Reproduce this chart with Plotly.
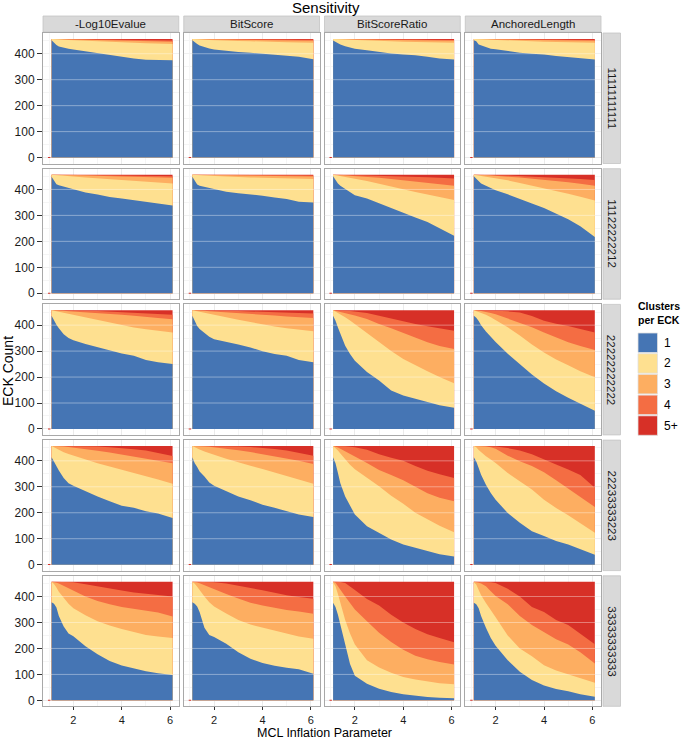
import plotly.graph_objects as go

# ---------------- data ----------------
# MCL inflation parameter values at which the stacked counts were read
inflation = [1.1, 1.2, 1.3, 1.4, 1.6, 1.8, 2.0, 2.5, 3.0, 3.5, 4.0, 4.5, 5.0, 5.5, 6.1]
total_eck = [457, 457, 457, 457, 457, 457, 457, 457, 457, 457, 457, 457, 457, 457, 457]
# tiny count of "5+" at inflation 1.0 (small red sliver at y=0)
inflation_first = [1.0]
first_5plus = [2]

metrics = ["-Log10Evalue", "BitScore", "BitScoreRatio", "AnchoredLength"]
patterns = ["11111111111", "11122222212", "22222222222", "22233333223", "33333333333"]
cluster_labels = ["1", "2", "3", "4", "5+"]
cluster_colors = ["#4575B4", "#FEE090", "#FDAE61", "#F46D43", "#D73027"]

# cumulative counts: ECKs with <=1, <=2, <=3, <=4 clusters (top of each band)
# pattern 11111111111
p1_log_le1 = [452, 442, 434, 428, 423, 419, 416, 409, 402, 395, 390, 382, 377, 376, 375]
p1_log_le2 = [457, 456, 456, 455, 454, 453, 452, 450, 448, 446, 444, 442, 440, 438, 437]
p1_log_le3 = [457, 457, 457, 457, 456, 456, 455, 454, 453, 452, 450, 449, 448, 447, 446]
p1_log_le4 = [457, 457, 457, 457, 457, 457, 456, 456, 456, 455, 454, 454, 453, 452, 451]
p1_bit_le1 = [452, 443, 437, 432, 425, 420, 416, 411, 407, 404, 400, 397, 393, 388, 379]
p1_bit_le2 = [457, 456, 456, 455, 454, 453, 452, 451, 449, 448, 446, 445, 444, 443, 442]
p1_bit_le3 = [457, 457, 457, 457, 456, 456, 456, 455, 454, 453, 452, 452, 451, 451, 450]
p1_bit_le4 = [457, 457, 457, 457, 457, 457, 457, 456, 456, 456, 455, 455, 455, 454, 454]
p1_bsr_le1 = [451, 445, 440, 436, 429, 423, 419, 413, 406, 401, 397, 394, 388, 382, 378]
p1_bsr_le2 = [457, 457, 456, 456, 455, 454, 453, 451, 449, 448, 446, 445, 444, 443, 442]
p1_bsr_le3 = [457, 457, 457, 457, 456, 456, 456, 455, 454, 453, 452, 452, 451, 451, 450]
p1_bsr_le4 = [457, 457, 457, 457, 457, 457, 457, 456, 456, 456, 455, 455, 454, 454, 453]
p1_anc_le1 = [452, 448, 436, 432, 427, 419, 417, 410, 404, 400, 397, 391, 387, 385, 378]
p1_anc_le2 = [457, 457, 456, 456, 455, 454, 453, 451, 449, 448, 446, 445, 444, 443, 442]
p1_anc_le3 = [457, 457, 457, 457, 456, 456, 456, 455, 454, 453, 452, 452, 451, 451, 450]
p1_anc_le4 = [457, 457, 457, 457, 457, 457, 457, 456, 456, 456, 455, 455, 454, 454, 453]
# pattern 11122222212
p2_log_le1 = [449, 432, 420, 416, 411, 405, 399, 388, 380, 371, 365, 359, 353, 346, 338]
p2_log_le2 = [457, 456, 455, 454, 452, 451, 450, 446, 443, 440, 436, 433, 430, 427, 423]
p2_log_le3 = [457, 457, 457, 457, 456, 456, 455, 454, 452, 451, 450, 449, 448, 447, 445]
p2_log_le4 = [457, 457, 457, 457, 457, 457, 456, 456, 455, 455, 454, 454, 453, 452, 451]
p2_bit_le1 = [449, 432, 419, 414, 410, 406, 401, 391, 385, 381, 376, 369, 363, 353, 350]
p2_bit_le2 = [457, 456, 455, 455, 454, 453, 452, 450, 448, 446, 445, 444, 443, 441, 440]
p2_bit_le3 = [457, 457, 457, 457, 457, 456, 456, 455, 454, 453, 453, 452, 451, 451, 450]
p2_bit_le4 = [457, 457, 457, 457, 457, 457, 457, 457, 456, 456, 456, 455, 455, 455, 454]
p2_bsr_le1 = [451, 436, 423, 414, 401, 388, 378, 365, 346, 327, 310, 292, 275, 252, 222]
p2_bsr_le2 = [457, 455, 454, 452, 449, 445, 441, 432, 421, 410, 400, 390, 380, 370, 359]
p2_bsr_le3 = [457, 457, 456, 455, 454, 453, 452, 449, 445, 440, 435, 430, 425, 420, 414]
p2_bsr_le4 = [457, 457, 457, 457, 456, 456, 455, 454, 453, 451, 450, 448, 447, 445, 442]
p2_anc_le1 = [451, 442, 432, 423, 414, 404, 397, 381, 365, 346, 328, 307, 285, 258, 217]
p2_anc_le2 = [457, 456, 454, 452, 449, 446, 443, 435, 425, 415, 404, 394, 383, 372, 357]
p2_anc_le3 = [457, 457, 457, 456, 455, 454, 452, 449, 446, 442, 438, 433, 428, 422, 414]
p2_anc_le4 = [457, 457, 457, 457, 457, 456, 455, 454, 452, 450, 448, 446, 443, 440, 436]
# pattern 22222222222
p3_log_le1 = [436, 417, 401, 388, 365, 350, 342, 327, 314, 302, 291, 282, 266, 257, 250]
p3_log_le2 = [457, 455, 454, 452, 448, 444, 439, 429, 420, 410, 400, 391, 384, 378, 372]
p3_log_le3 = [457, 457, 456, 456, 455, 453, 452, 449, 446, 443, 440, 436, 431, 427, 423]
p3_log_le4 = [457, 457, 457, 457, 457, 457, 456, 455, 454, 452, 450, 448, 446, 443, 440]
p3_bit_le1 = [436, 414, 397, 385, 369, 355, 346, 334, 325, 314, 299, 289, 282, 266, 257]
p3_bit_le2 = [457, 455, 454, 451, 447, 443, 439, 430, 421, 412, 403, 395, 388, 382, 376]
p3_bit_le3 = [457, 457, 456, 456, 455, 453, 452, 449, 446, 443, 440, 437, 433, 430, 427]
p3_bit_le4 = [457, 457, 457, 457, 457, 457, 456, 455, 454, 453, 451, 450, 448, 447, 445]
p3_bsr_le1 = [436, 417, 391, 365, 321, 289, 263, 219, 187, 148, 129, 116, 104, 91, 82]
p3_bsr_le2 = [457, 452, 447, 442, 430, 418, 405, 370, 335, 300, 270, 245, 222, 200, 176]
p3_bsr_le3 = [457, 455, 453, 451, 447, 442, 437, 424, 404, 388, 370, 352, 334, 320, 308]
p3_bsr_le4 = [457, 457, 457, 456, 455, 454, 452, 447, 436, 425, 414, 404, 396, 388, 378]
p3_anc_le1 = [436, 428, 416, 400, 375, 355, 335, 290, 250, 210, 175, 145, 120, 97, 70]
p3_anc_le2 = [457, 454, 451, 448, 440, 430, 420, 392, 360, 325, 295, 268, 245, 222, 199]
p3_anc_le3 = [457, 457, 455, 454, 451, 447, 442, 426, 410, 392, 372, 353, 334, 320, 304]
p3_anc_le4 = [457, 457, 457, 457, 456, 456, 455, 453, 449, 435, 417, 405, 397, 385, 372]
# pattern 22233333223
p4_log_le1 = [414, 397, 378, 363, 334, 314, 304, 282, 263, 244, 227, 219, 206, 197, 180]
p4_log_le2 = [457, 452, 447, 443, 433, 426, 420, 405, 391, 378, 366, 354, 341, 328, 312]
p4_log_le3 = [457, 457, 457, 456, 455, 453, 451, 445, 439, 432, 424, 417, 410, 401, 391]
p4_log_le4 = [457, 457, 457, 457, 457, 457, 456, 455, 455, 452, 449, 445, 440, 430, 419]
p4_bit_le1 = [414, 391, 376, 359, 340, 317, 304, 282, 263, 248, 231, 219, 206, 193, 184]
p4_bit_le2 = [457, 452, 448, 444, 436, 429, 423, 408, 394, 381, 369, 356, 343, 328, 312]
p4_bit_le3 = [457, 457, 457, 456, 455, 454, 452, 447, 441, 434, 426, 418, 410, 400, 388]
p4_bit_le4 = [457, 457, 457, 457, 457, 457, 456, 456, 455, 453, 450, 446, 440, 431, 420]
p4_bsr_le1 = [414, 391, 353, 314, 263, 225, 193, 148, 123, 97, 78, 65, 52, 40, 31]
p4_bsr_le2 = [457, 450, 440, 428, 405, 385, 368, 335, 302, 265, 235, 200, 175, 150, 125]
p4_bsr_le3 = [457, 455, 451, 447, 438, 427, 417, 392, 365, 345, 325, 300, 275, 258, 244]
p4_bsr_le4 = [457, 457, 457, 457, 456, 454, 452, 443, 425, 412, 400, 380, 362, 348, 334]
p4_anc_le1 = [414, 397, 372, 346, 308, 276, 250, 199, 161, 129, 110, 91, 78, 59, 38]
p4_anc_le2 = [457, 452, 442, 433, 418, 405, 392, 353, 320, 290, 250, 218, 190, 160, 123]
p4_anc_le3 = [457, 457, 457, 456, 455, 452, 447, 420, 398, 380, 356, 325, 292, 262, 222]
p4_anc_le4 = [457, 457, 457, 457, 457, 456, 455, 449, 440, 425, 407, 386, 367, 345, 296]
# pattern 33333333333
p5_log_le1 = [378, 372, 358, 325, 285, 258, 247, 208, 178, 152, 134, 122, 112, 104, 98]
p5_log_le2 = [456, 448, 435, 418, 395, 372, 355, 328, 305, 288, 275, 262, 252, 246, 240]
p5_log_le3 = [457, 456, 453, 450, 441, 432, 424, 400, 383, 370, 360, 352, 345, 338, 323]
p5_log_le4 = [457, 457, 457, 457, 456, 456, 455, 447, 438, 430, 423, 416, 411, 406, 400]
p5_bit_le1 = [378, 372, 362, 340, 280, 252, 244, 218, 185, 160, 144, 133, 126, 120, 103]
p5_bit_le2 = [456, 449, 438, 425, 400, 378, 362, 335, 310, 292, 280, 268, 256, 246, 237]
p5_bit_le3 = [457, 456, 454, 451, 443, 435, 428, 410, 392, 376, 365, 356, 348, 342, 334]
p5_bit_le4 = [457, 457, 457, 457, 456, 456, 455, 450, 442, 433, 424, 415, 405, 398, 391]
p5_bsr_le1 = [376, 360, 330, 290, 215, 140, 95, 64, 45, 32, 24, 18, 13, 10, 8]
p5_bsr_le2 = [455, 440, 410, 375, 310, 258, 215, 155, 127, 106, 90, 80, 72, 66, 62]
p5_bsr_le3 = [457, 453, 440, 425, 400, 375, 350, 305, 260, 225, 195, 172, 158, 148, 138]
p5_bsr_le4 = [457, 457, 457, 456, 452, 440, 425, 390, 365, 330, 300, 275, 255, 240, 224]
p5_anc_le1 = [376, 370, 355, 325, 280, 240, 210, 155, 110, 78, 57, 44, 35, 24, 14]
p5_anc_le2 = [455, 446, 425, 405, 375, 345, 320, 250, 200, 170, 135, 115, 100, 85, 68]
p5_anc_le3 = [457, 456, 453, 450, 440, 420, 402, 370, 325, 290, 262, 235, 215, 185, 142]
p5_anc_le4 = [457, 457, 457, 457, 456, 455, 452, 430, 400, 360, 340, 310, 290, 255, 216]

panel_data = {
    (0, 0): [p1_log_le1, p1_log_le2, p1_log_le3, p1_log_le4],
    (0, 1): [p1_bit_le1, p1_bit_le2, p1_bit_le3, p1_bit_le4],
    (0, 2): [p1_bsr_le1, p1_bsr_le2, p1_bsr_le3, p1_bsr_le4],
    (0, 3): [p1_anc_le1, p1_anc_le2, p1_anc_le3, p1_anc_le4],
    (1, 0): [p2_log_le1, p2_log_le2, p2_log_le3, p2_log_le4],
    (1, 1): [p2_bit_le1, p2_bit_le2, p2_bit_le3, p2_bit_le4],
    (1, 2): [p2_bsr_le1, p2_bsr_le2, p2_bsr_le3, p2_bsr_le4],
    (1, 3): [p2_anc_le1, p2_anc_le2, p2_anc_le3, p2_anc_le4],
    (2, 0): [p3_log_le1, p3_log_le2, p3_log_le3, p3_log_le4],
    (2, 1): [p3_bit_le1, p3_bit_le2, p3_bit_le3, p3_bit_le4],
    (2, 2): [p3_bsr_le1, p3_bsr_le2, p3_bsr_le3, p3_bsr_le4],
    (2, 3): [p3_anc_le1, p3_anc_le2, p3_anc_le3, p3_anc_le4],
    (3, 0): [p4_log_le1, p4_log_le2, p4_log_le3, p4_log_le4],
    (3, 1): [p4_bit_le1, p4_bit_le2, p4_bit_le3, p4_bit_le4],
    (3, 2): [p4_bsr_le1, p4_bsr_le2, p4_bsr_le3, p4_bsr_le4],
    (3, 3): [p4_anc_le1, p4_anc_le2, p4_anc_le3, p4_anc_le4],
    (4, 0): [p5_log_le1, p5_log_le2, p5_log_le3, p5_log_le4],
    (4, 1): [p5_bit_le1, p5_bit_le2, p5_bit_le3, p5_bit_le4],
    (4, 2): [p5_bsr_le1, p5_bsr_le2, p5_bsr_le3, p5_bsr_le4],
    (4, 3): [p5_anc_le1, p5_anc_le2, p5_anc_le3, p5_anc_le4],
}

y_ticks = [0, 100, 200, 300, 400]
x_ticks = [2, 4, 6]

# ---------------- layout geometry (pixels) ----------------
W, H = 685, 741
FONT = "Liberation Sans, Arial, sans-serif"
col_left0, col_w, col_gap = 43.0, 135.75, 5.0
row_top0, row_h, row_gap = 33.0, 130.5, 5.2


def px(x):
    return x / W


def py(y):
    return 1 - y / H


fig = go.Figure()
layout = dict(
    width=W, height=H, margin=dict(l=0, r=0, t=0, b=0),
    paper_bgcolor="white", plot_bgcolor="white", showlegend=False,
    font=dict(family=FONT, color="#000000"),
)
shapes = []
annotations = []

for r in range(5):
    top = row_top0 + r * (row_h + row_gap)
    bot = top + row_h
    for c in range(4):
        left = col_left0 + c * (col_w + col_gap)
        right = left + col_w
        i = r * 4 + c + 1
        xs = "" if i == 1 else str(i)
        xa, ya = "x" + xs, "y" + xs
        le1, le2, le3, le4 = panel_data[(r, c)]
        bands = [total_eck, le4, le3, le2, le1]
        band_cols = cluster_colors[::-1]
        for yv, col in zip(bands, band_cols):
            fig.add_trace(go.Scatter(
                x=inflation, y=yv, mode="lines", fill="tozeroy",
                fillcolor=col, line=dict(width=0, color=col),
                xaxis=xa, yaxis=ya, hoverinfo="skip"))
        fig.add_trace(go.Bar(
            x=inflation_first, y=first_5plus, width=0.1,
            marker=dict(color=cluster_colors[4], line=dict(width=0)),
            xaxis=xa, yaxis=ya, hoverinfo="skip"))
        layout["xaxis" + xs] = dict(
            domain=[px(left), px(right)], anchor=ya, range=[0.745, 6.355],
            tickvals=x_ticks, showticklabels=(r == 4),
            ticks="outside" if r == 4 else "", ticklen=3, tickwidth=1.3,
            tickcolor="#333333",
            tickfont=dict(size=11, color="#1A1A1A", family=FONT),
            showgrid=True, gridcolor="#EBEBEB", gridwidth=1,
            minor=dict(tickvals=[1, 3, 5], showgrid=True,
                       gridcolor="#F5F5F5", gridwidth=0.6, ticks=""),
            zeroline=False, showline=True, mirror=True,
            linecolor="#A8A8A8", linewidth=1,
        )
        layout["yaxis" + xs] = dict(
            domain=[py(bot), py(top)], anchor=xa, range=[-22.85, 479.85],
            tickvals=y_ticks, showticklabels=(c == 0),
            ticks="outside" if c == 0 else "", ticklen=5, tickwidth=1.3,
            tickcolor="#333333",
            tickfont=dict(size=12, color="#1A1A1A", family=FONT),
            showgrid=True, gridcolor="#EBEBEB", gridwidth=1,
            minor=dict(tickvals=[50, 150, 250, 350, 450], showgrid=True,
                       gridcolor="#F5F5F5", gridwidth=0.6, ticks=""),
            zeroline=False, showline=True, mirror=True,
            linecolor="#A8A8A8", linewidth=1,
        )
        # light grid lines visible on top of the filled areas
        for yv in y_ticks[1:]:
            shapes.append(dict(
                type="line", xref=xa + " domain", yref=ya,
                x0=0, x1=1, y0=yv, y1=yv, layer="above",
                line=dict(color="rgba(255,255,255,0.38)", width=1)))
        # column strips
        if r == 0:
            shapes.append(dict(
                type="rect", xref="paper", yref="paper",
                x0=px(left), x1=px(right), y0=py(32), y1=py(16),
                fillcolor="#D9D9D9", line=dict(color="#C4C4C4", width=0.8),
                layer="below"))
            annotations.append(dict(
                x=px((left + right) / 2), y=py(24.2), xref="paper", yref="paper",
                text=metrics[c], showarrow=False, xanchor="center", yanchor="middle",
                font=dict(size=11.5, color="#1A1A1A", family=FONT)))
    # row strips
    shapes.append(dict(
        type="rect", xref="paper", yref="paper",
        x0=px(603), x1=px(620.5), y0=py(bot), y1=py(top),
        fillcolor="#D9D9D9", line=dict(color="#C4C4C4", width=0.8), layer="below"))
    annotations.append(dict(
        x=px(611.8), y=py((top + bot) / 2), xref="paper", yref="paper",
        text=patterns[r], showarrow=False, textangle=90,
        xanchor="center", yanchor="middle",
        font=dict(size=11.5, color="#1A1A1A", family=FONT)))

# titles
annotations.append(dict(x=px(326), y=py(8), xref="paper", yref="paper",
                        text="Sensitivity", showarrow=False,
                        xanchor="center", yanchor="middle",
                        font=dict(size=15, color="#000000", family=FONT)))
annotations.append(dict(x=px(324), y=py(741), xref="paper", yref="paper",
                        text="MCL Inflation Parameter", showarrow=False,
                        xanchor="center", yanchor="bottom", borderpad=0,
                        font=dict(size=12.5, color="#000000", family=FONT)))
annotations.append(dict(x=px(8), y=py(371), xref="paper", yref="paper",
                        text="ECK Count", showarrow=False, textangle=-90,
                        xanchor="center", yanchor="middle",
                        font=dict(size=14, color="#000000", family=FONT)))

# legend (drawn manually to match the ggplot key boxes)
annotations.append(dict(x=px(636), y=py(298), xref="paper", yref="paper",
                        text="<b>Clusters<br>per ECK</b>", showarrow=False,
                        xanchor="left", yanchor="top", align="left",
                        font=dict(size=10.5, color="#000000", family=FONT)))
key_top0, key_pitch, key_size = 333.0, 20.7, 19.5
for k, (lab, col) in enumerate(zip(cluster_labels, cluster_colors)):
    t = key_top0 + k * key_pitch
    shapes.append(dict(type="rect", xref="paper", yref="paper",
                       x0=px(638), x1=px(638 + key_size), y0=py(t + key_size), y1=py(t),
                       fillcolor=col, line=dict(color="#E0E0E0", width=0.8)))
    annotations.append(dict(x=px(662), y=py(t + key_size / 2), xref="paper", yref="paper",
                            text=lab, showarrow=False, xanchor="left", yanchor="middle",
                            font=dict(size=12, color="#000000", family=FONT)))

layout["shapes"] = shapes
layout["annotations"] = annotations
layout["barmode"] = "overlay"
fig.update_layout(**layout)
fig.write_html(
    "out.html",
    config={"displayModeBar": False},
    post_script="document.body.style.margin='0px';document.body.style.overflow='hidden';",
)
